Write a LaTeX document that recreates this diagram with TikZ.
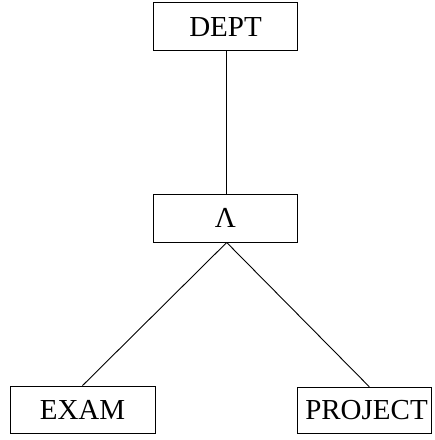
\documentclass[tikz,border=0pt]{standalone}
\usepackage{fontspec}
\setmainfont{Liberation Serif}
\begin{document}
\begin{tikzpicture}[x=1pt,y=-1pt,
  ebox/.style={draw=black,line width=0.9pt,rectangle,inner sep=0pt,font=\fontsize{29}{31}\selectfont,text depth=0pt},
  link/.style={draw=black,line width=0.9pt}]
\useasboundingbox (0,0) rectangle (435,440);
\node[ebox,minimum width=144.4pt,minimum height=48pt] (dept) at (225.5,26.7) {DEPT};
\node[ebox,minimum width=144.4pt,minimum height=47.7pt] (and) at (225.5,218.2) {Λ};
\node[ebox,minimum width=145pt,minimum height=47.3pt] (exam) at (82.5,409.7) {EXAM};
\node[ebox,minimum width=134.7pt,minimum height=46pt] (proj) at (364.5,410.2) {\hspace*{4pt}PROJECT};
\draw[link] ([xshift=1.2pt]dept.south) -- ([xshift=1.2pt]and.north);
\draw[link] ([xshift=1.2pt]and.south) -- (exam.north);
\draw[link] ([xshift=1.2pt]and.south) -- ([xshift=4.8pt]proj.north);
\end{tikzpicture}
\end{document}
